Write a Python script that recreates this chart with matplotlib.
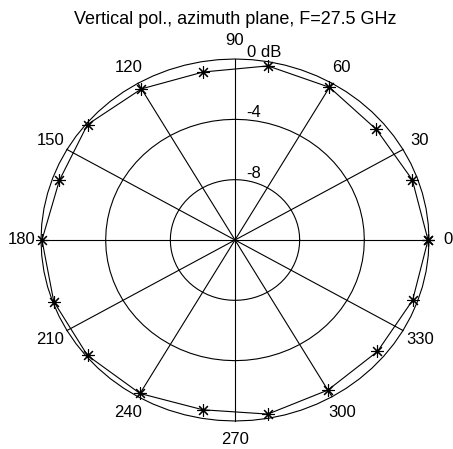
import numpy as np
import matplotlib
matplotlib.use("Agg")
from matplotlib import pyplot as plt

plt.rcParams['font.family'] = ['Liberation Sans', 'DejaVu Sans']

title = "Vertical pol., azimuth plane, F=27.5 GHz"
angles_deg = [0, 20, 40, 60, 80, 100, 120, 140, 160,
              180, 200, 220, 240, 260, 280, 300, 320, 340]
gain_db = [-0.06, -0.33, -0.59, -0.31, -0.28, -0.69, -0.43, -0.09, -0.44,
           -0.06, -0.07, -0.09, -0.25, -0.57, -0.28, -0.51, -0.50, -0.31]
r_min, r_max = -12.0, 0.0
ring_db = [-8, -4, 0]
ring_labels = ["-8", "-4", "0 dB"]
spoke_deg = np.arange(0, 360, 30)


def to_r(db):
    return (np.asarray(db) - r_min) / (r_max - r_min)


W, H = 453, 449
fig = plt.figure(figsize=(W / 100, H / 100), dpi=100)
# polar disc is slightly squashed in the reference (wider than tall)
cx, cy, rx, ry = 235, 240, 194, 181
ax = fig.add_axes([(cx - rx) / W, (H - cy - ry) / H, 2 * rx / W, 2 * ry / H])
ax.set_xlim(-1, 1)
ax.set_ylim(-1, 1)
ax.axis('off')

lw = 0.8
fs = 12
t = np.linspace(0, 2 * np.pi, 73)
for db, lab in zip(ring_db, ring_labels):
    r = to_r(db)
    ax.plot(r * np.cos(t), r * np.sin(t), color='black', lw=lw, clip_on=False)
    ax.text(0.06, r - 0.005, lab, ha='left', va='bottom', fontsize=fs, clip_on=False)

for a in spoke_deg:
    th = np.deg2rad(a)
    ax.plot([0, np.cos(th)], [0, np.sin(th)], color='black', lw=lw, clip_on=False)
    ax.text(1.1 * np.cos(th), 1.1 * np.sin(th), str(a), ha='center', va='center',
            fontsize=fs, clip_on=False)

th = np.deg2rad(angles_deg + [angles_deg[0]])
rr = to_r(gain_db + [gain_db[0]])
ax.plot(rr * np.cos(th), rr * np.sin(th), color='black', lw=lw,
        marker=(8, 2, 0), ms=9, mew=0.8, clip_on=False)

fig.text(cx / W, 1 - 20 / H, title, ha='center', va='center', fontsize=13)

fig.savefig("out.png", dpi=100)
